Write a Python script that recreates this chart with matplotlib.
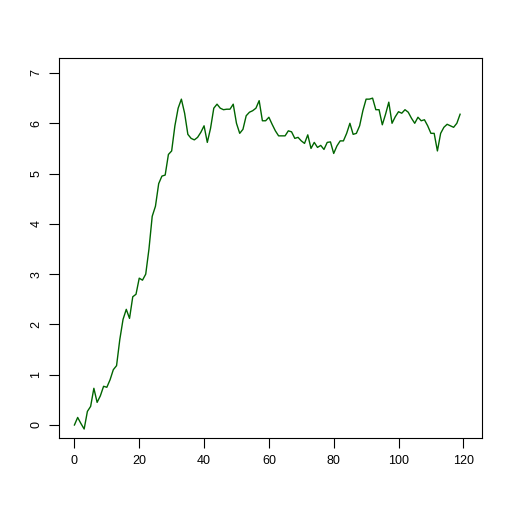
import matplotlib
matplotlib.use("Agg")
import matplotlib.pyplot as plt
import numpy as np

values = [0.0, 0.15, 0.03, -0.08, 0.27, 0.37, 0.73, 0.45, 0.58, 0.77,
          0.75, 0.9, 1.1, 1.18, 1.7, 2.1, 2.3, 2.12, 2.55, 2.6,
          2.92, 2.88, 3.0, 3.5, 4.15, 4.35, 4.8, 4.95, 4.97, 5.38,
          5.45, 5.95, 6.3, 6.48, 6.2, 5.78, 5.7, 5.67, 5.72, 5.82,
          5.95, 5.62, 5.9, 6.3, 6.38, 6.3, 6.27, 6.28, 6.28, 6.38,
          6.0, 5.8, 5.88, 6.15, 6.22, 6.25, 6.3, 6.45, 6.05, 6.05,
          6.12, 5.98, 5.85, 5.75, 5.75, 5.75, 5.85, 5.83, 5.7, 5.72,
          5.65, 5.6, 5.77, 5.5, 5.62, 5.52, 5.56, 5.48, 5.62, 5.63,
          5.4, 5.55, 5.65, 5.65, 5.8, 6.0, 5.78, 5.8, 5.95, 6.25,
          6.48, 6.48, 6.5, 6.27, 6.27, 5.97, 6.18, 6.42, 6.0, 6.13,
          6.23, 6.2, 6.27, 6.22, 6.1, 6.0, 6.12, 6.05, 6.07, 5.95,
          5.8, 5.8, 5.45, 5.8, 5.92, 5.98, 5.95, 5.92, 6.0, 6.18]
x = np.arange(len(values))
xticks = [0, 20, 40, 60, 80, 100, 120]
yticks = [0, 1, 2, 3, 4, 5, 6, 7]

plt.rcParams['font.family'] = ['Liberation Sans', 'DejaVu Sans']
fig = plt.figure(figsize=(5.12, 5.12), dpi=100)
ax = fig.add_axes([59/512, 1-438/512, (482-59)/512, (438-58)/512])
ax.plot(x, values, color='#006400', linewidth=1.0)
ax.set_xlim(-4.76, 125.76)
# y=0 at px 425, y=7 at px 73
ppu = (425-73)/7
ax.set_ylim(-(438-425)/ppu, 7 + (73-58)/ppu)
ax.set_xticks(xticks)
ax.set_yticks(yticks)
ax.set_yticklabels([str(v) for v in yticks], rotation=90, va='center')
ax.tick_params(direction='out', length=7, width=0.8, labelsize=9, pad=5)
for s in ax.spines.values():
    s.set_linewidth(0.8)
fig.savefig('out.png', dpi=100)
